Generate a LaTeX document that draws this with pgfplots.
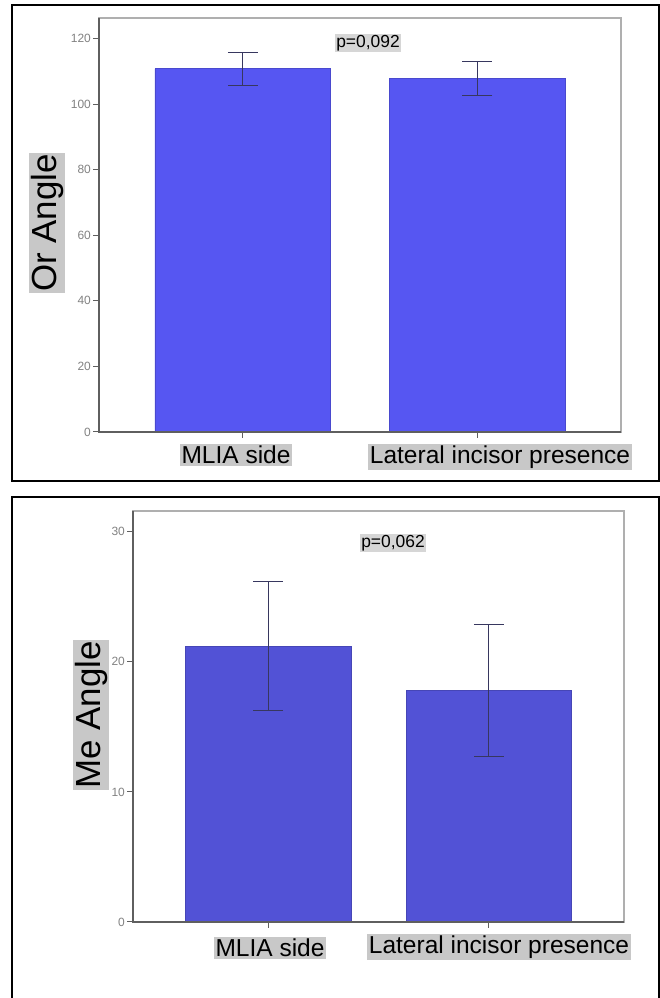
\documentclass[border=0pt]{standalone}
\usepackage{fontspec}
\setmainfont{Liberation Sans}
\usepackage{pgfplots}
\pgfplotsset{compat=1.18}
\definecolor{barA}{RGB}{86,86,242}
\definecolor{barB}{RGB}{82,82,214}
\definecolor{errc}{RGB}{55,55,95}
\definecolor{lblbg}{RGB}{200,200,200}
\definecolor{pbg}{RGB}{214,214,214}
\definecolor{axdark}{RGB}{95,95,95}
\definecolor{axlight}{RGB}{175,175,175}
\definecolor{ticklbl}{RGB}{130,130,130}
\pgfplotsset{
  myax/.style={
    scale only axis, ybar, bar width=0.75,
    xmin=-0.613, xmax=1.613, ymin=0,
    xtick={0,1}, xticklabel=\empty,
    tick align=outside, ytick pos=left, xtick pos=bottom,
    major tick length=6bp,
    tick style={axdark, line width=1bp},
    axis line style={draw=axlight, line width=1.5bp},
    /pgf/number format/assume math mode=true,
    yticklabel style={font=\fontsize{12}{12}\selectfont, text=ticklbl, inner sep=2bp},
    clip=false,
  },
  errsty/.style={error bars/.cd, y dir=both, y explicit,
    error bar style={errc, line width=1bp},
    error mark options={rotate=90, errc, line width=1bp, mark size=15bp}},
}
\begin{document}
\begin{tikzpicture}[x=1bp,y=1bp]
\useasboundingbox (0,0) rectangle (660,998);
\clip (0,0) rectangle (660,998);
\fill[white] (0,0) rectangle (660,998);
% frames
\draw[black, line width=1.3bp] (12,993) rectangle (659,517);
\draw[black, line width=1.3bp] (12,-10) -- (12,501) -- (659,501) -- (659,-10);

% ---- top panel ----
\begin{axis}[myax, at={(99bp,566bp)}, anchor=south west,
  width=522bp, height=414bp, ymax=126.3, ytick={0,20,40,60,80,100,120}]
  \addplot[fill=barA, draw=barA!85!black, line width=0.6bp, errsty]
    coordinates {(0,110.8) +- (0,5.1) (1,107.8) +- (0,5.1)};
  \draw[axdark, line width=1.3bp] (rel axis cs:0,1) -- (rel axis cs:0,0) -- (rel axis cs:1,0);
\end{axis}
\node[fill=pbg, inner sep=1.5bp, font=\fontsize{17.5}{17.5}\selectfont] at (368,955) {p=0,092};
\node[fill=lblbg, inner sep=2bp, font=\fontsize{24.6}{24.6}\selectfont] at (236,543) {MLIA side};
\node[fill=lblbg, inner sep=2bp, font=\fontsize{24.6}{24.6}\selectfont] at (500,541) {Lateral incisor presence};
\node[rotate=90, fill=lblbg, inner sep=1.5bp, font=\fontsize{35}{35}\selectfont] at (47,775) {Or Angle};

% ---- bottom panel ----
\begin{axis}[myax, at={(133bp,76bp)}, anchor=south west,
  width=491bp, height=411bp, ymax=31.6, ytick={0,10,20,30}]
  \addplot[fill=barB, draw=barB!85!black, line width=0.6bp, errsty]
    coordinates {(0,21.2) +- (0,4.95) (1,17.8) +- (0,5.05)};
  \draw[axdark, line width=1.3bp] (rel axis cs:0,1) -- (rel axis cs:0,0) -- (rel axis cs:1,0);
\end{axis}
\node[fill=pbg, inner sep=1.5bp, font=\fontsize{17.5}{17.5}\selectfont] at (393,455) {p=0,062};
\node[fill=lblbg, inner sep=2bp, font=\fontsize{24.6}{24.6}\selectfont] at (270,50) {MLIA side};
\node[fill=lblbg, inner sep=2bp, font=\fontsize{24.6}{24.6}\selectfont] at (499,51) {Lateral incisor presence};
\node[rotate=90, fill=lblbg, inner sep=1.5bp, font=\fontsize{35}{35}\selectfont] at (91,283) {Me Angle};
\end{tikzpicture}
\end{document}
